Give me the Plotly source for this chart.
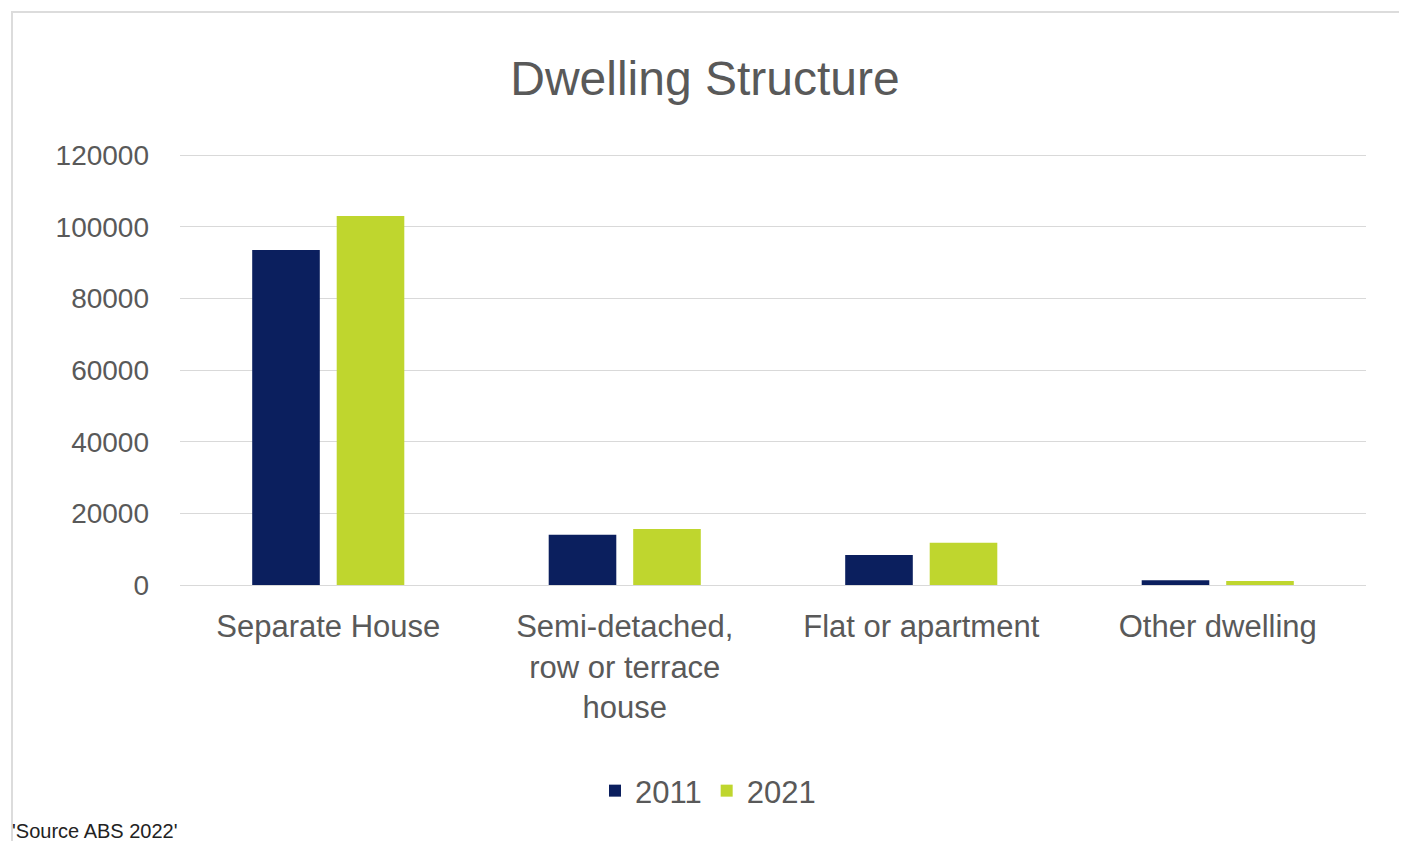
import plotly.graph_objects as go

categories = ["Separate House", "Semi-detached,<br>row or terrace<br>house", "Flat or apartment", "Other dwelling"]
series_names = ["2011", "2021"]
values_2011 = [93500, 14000, 8400, 1300]
values_2021 = [103000, 15600, 11800, 1100]
y_ticks = [0, 20000, 40000, 60000, 80000, 100000, 120000]

colors = {"2011": "#0b1f5e", "2021": "#bfd62e"}
FONT = "Liberation Sans, Arial, sans-serif"
GRAY = "#595959"

fig = go.Figure()
for name, vals in zip(series_names, [values_2011, values_2021]):
    fig.add_trace(go.Bar(x=categories, y=vals, name=name, marker=dict(color=colors[name], line=dict(width=0))))

W, H = 1399, 833
L, R, T, B = 172, 41, 146, 256
pw, ph = W - L - R, H - T - B

def px(fx):
    return (fx - L) / pw

def py(fy):
    return (H - B - fy) / ph

fig.update_layout(
    width=W, height=H,
    margin=dict(l=L, r=R, t=T, b=B, pad=0),
    paper_bgcolor="white", plot_bgcolor="white",
    barmode="group", bargap=0.43, bargroupgap=0.2,
    font=dict(family=FONT, color=GRAY),
    title=dict(text="Dwelling Structure", x=697 / W, xanchor="center", y=1 - 70 / H, yanchor="middle",
               font=dict(size=48, color=GRAY, family=FONT)),
    legend=dict(orientation="h", x=px(700), xanchor="center", y=py(783), yanchor="middle",
                font=dict(size=31, color=GRAY), itemwidth=30, traceorder="normal"),
    xaxis=dict(showgrid=False, showline=True, linecolor="#d9d9d9", linewidth=1, ticks="",
               tickfont=dict(size=31, color=GRAY), ticklabelstandoff=14),
    yaxis=dict(range=[0, 120300], tickvals=y_ticks, ticktext=[str(v) for v in y_ticks],
               showgrid=True, gridcolor="#d9d9d9", gridwidth=1, zeroline=False, showline=False,
               ticks="", tickfont=dict(size=28, color=GRAY), ticklabelstandoff=30),
    shapes=[dict(type="rect", xref="paper", yref="paper", x0=px(4), x1=px(1392), y0=py(860), y1=py(4),
                 line=dict(color="#dcdcdc", width=2), fillcolor="rgba(0,0,0,0)", layer="below")],
    annotations=[dict(text="'Source ABS 2022'", xref="paper", yref="paper", x=px(2), y=py(810),
                      xanchor="left", yanchor="top", showarrow=False,
                      font=dict(size=20, color="#222222", family=FONT))],
)

fig.write_html("out.html")
